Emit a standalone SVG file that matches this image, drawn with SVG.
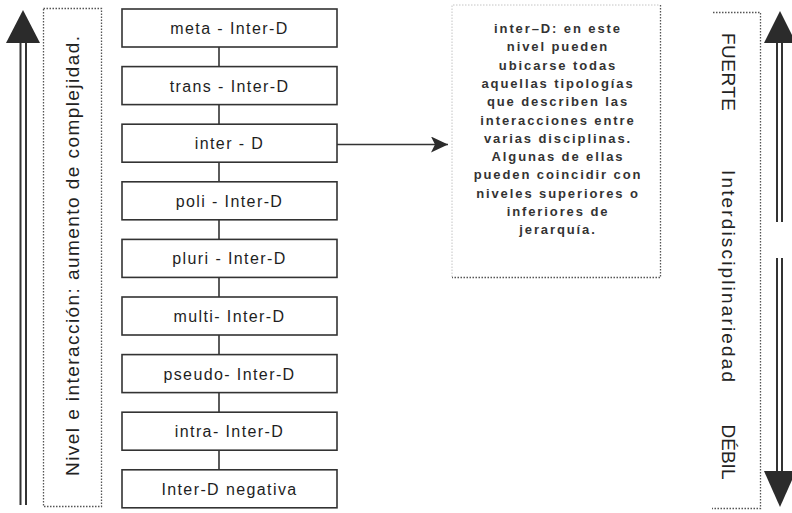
<svg xmlns="http://www.w3.org/2000/svg" width="792" height="513" viewBox="0 0 792 513">
  <style>
    .box { fill: #ffffff; stroke: #333333; stroke-width: 1.6; }
    .lbl { font-family: "Liberation Sans", Arial, sans-serif; font-size: 16px; fill: #1e1e1e; text-anchor: middle; letter-spacing: 1.4px; }
    .note { font-family: "Liberation Sans", Arial, sans-serif; font-size: 13px; font-weight: bold; fill: #333333; text-anchor: middle; letter-spacing: 1.9px; }
    .side { font-family: "Liberation Sans", Arial, sans-serif; font-size: 19px; fill: #222222; text-anchor: middle; }
    .dots { fill: none; stroke: #555555; stroke-width: 1.3; stroke-dasharray: 1.5 1.5; }
    .faint { fill: none; stroke: #c4c4c4; stroke-width: 1; stroke-dasharray: 1.5 1.5; }
    .conn { fill: none; stroke: #333333; stroke-width: 1.6; }
    .shaft { stroke: #333333; stroke-width: 2; }
    .head { fill: #2b2b2b; }
  </style>
  <defs>
    <marker id="arrow" markerUnits="userSpaceOnUse" markerWidth="18" markerHeight="18" refX="17" refY="8" orient="auto">
      <path d="M0,0 L17,8 L0,16 L4,8 Z" fill="#2b2b2b"/>
    </marker>
  </defs>

  <rect width="792" height="513" fill="#ffffff"/>

  <!-- left scale: upward double arrow with framed caption -->
  <g id="scale-left">
    <line class="shaft" x1="20.5" y1="42" x2="20.5" y2="505"/>
    <line class="shaft" x1="26" y1="42" x2="26" y2="505"/>
    <polygon class="head" points="23,10 40,43 6,43"/>
    <rect class="dots" x="43.5" y="8.5" width="58" height="498"/>
    <text class="side" transform="translate(79,256) rotate(-90)" textLength="440" lengthAdjust="spacing">Nivel e interacción: aumento de complejidad.</text>
  </g>

  <!-- connectors -->
  <g id="connectors">
    <line class="conn" x1="219" y1="47" x2="219" y2="66.6"/>
    <line class="conn" x1="219" y1="104.6" x2="219" y2="124.2"/>
    <line class="conn" x1="219" y1="162.2" x2="219" y2="181.8"/>
    <line class="conn" x1="219" y1="219.8" x2="219" y2="239.4"/>
    <line class="conn" x1="219" y1="277.4" x2="219" y2="297"/>
    <line class="conn" x1="219" y1="335" x2="219" y2="354.6"/>
    <line class="conn" x1="219" y1="392.6" x2="219" y2="412.2"/>
    <line class="conn" x1="219" y1="450.2" x2="219" y2="469.8"/>
    <line class="conn" x1="337" y1="144.5" x2="448" y2="144.5" marker-end="url(#arrow)"/>
  </g>

  <!-- level boxes -->
  <g id="meta">
    <rect class="box" x="122" y="9" width="215" height="38"/>
    <text class="lbl" x="229.5" y="34">meta - Inter-D</text>
  </g>
  <g id="trans">
    <rect class="box" x="122" y="66.6" width="215" height="38"/>
    <text class="lbl" x="229.5" y="91.6">trans - Inter-D</text>
  </g>
  <g id="inter">
    <rect class="box" x="122" y="124.2" width="215" height="38"/>
    <text class="lbl" x="229.5" y="149.2">inter - D</text>
  </g>
  <g id="poli">
    <rect class="box" x="122" y="181.8" width="215" height="38"/>
    <text class="lbl" x="229.5" y="206.8">poli - Inter-D</text>
  </g>
  <g id="pluri">
    <rect class="box" x="122" y="239.4" width="215" height="38"/>
    <text class="lbl" x="229.5" y="264.4">pluri - Inter-D</text>
  </g>
  <g id="multi">
    <rect class="box" x="122" y="297" width="215" height="38"/>
    <text class="lbl" x="229.5" y="322">multi- Inter-D</text>
  </g>
  <g id="pseudo">
    <rect class="box" x="122" y="354.6" width="215" height="38"/>
    <text class="lbl" x="229.5" y="379.6">pseudo- Inter-D</text>
  </g>
  <g id="intra">
    <rect class="box" x="122" y="412.2" width="215" height="38"/>
    <text class="lbl" x="229.5" y="437.2">intra- Inter-D</text>
  </g>
  <g id="negativa">
    <rect class="box" x="122" y="469.8" width="215" height="38"/>
    <text class="lbl" x="229.5" y="494.8">Inter-D negativa</text>
  </g>

  <!-- explanatory note -->
  <g id="note">
    <path class="faint" d="M452,277 V5 H660"/>
    <path class="dots" d="M660.5,5 V277.5 H452"/>
    <text class="note" x="558" y="33">inter–D:  en este</text>
    <text class="note" x="558" y="51.3">nivel pueden</text>
    <text class="note" x="558" y="69.6">ubicarse todas</text>
    <text class="note" x="558" y="87.9">aquellas tipologías</text>
    <text class="note" x="558" y="106.2">que describen las</text>
    <text class="note" x="558" y="124.5">interacciones entre</text>
    <text class="note" x="558" y="142.8">varias disciplinas.</text>
    <text class="note" x="558" y="161.1">Algunas de ellas</text>
    <text class="note" x="558" y="179.4">pueden coincidir con</text>
    <text class="note" x="558" y="197.7">niveles superiores o</text>
    <text class="note" x="558" y="216">inferiores de</text>
    <text class="note" x="558" y="234.3">jerarquía.</text>
  </g>

  <!-- right scale: strength of interdisciplinarity -->
  <g id="scale-right">
    <path class="dots" d="M713,12.5 H760.5 V508.5 H712"/>
    <text class="side" transform="translate(722,72) rotate(90)" textLength="78" lengthAdjust="spacing">FUERTE</text>
    <text class="side" transform="translate(722,276) rotate(90)" textLength="212" lengthAdjust="spacing">Interdisciplinariedad</text>
    <text class="side" transform="translate(722,452) rotate(90)">DÉBIL</text>
    <line class="shaft" x1="777" y1="42" x2="777" y2="222"/>
    <line class="shaft" x1="782" y1="42" x2="782" y2="222"/>
    <line class="shaft" x1="777" y1="258" x2="777" y2="472"/>
    <line class="shaft" x1="782" y1="258" x2="782" y2="472"/>
    <polygon class="head" points="780,11 796,43 764,43"/>
    <polygon class="head" points="780,507 796,471 764,471"/>
  </g>
</svg>
